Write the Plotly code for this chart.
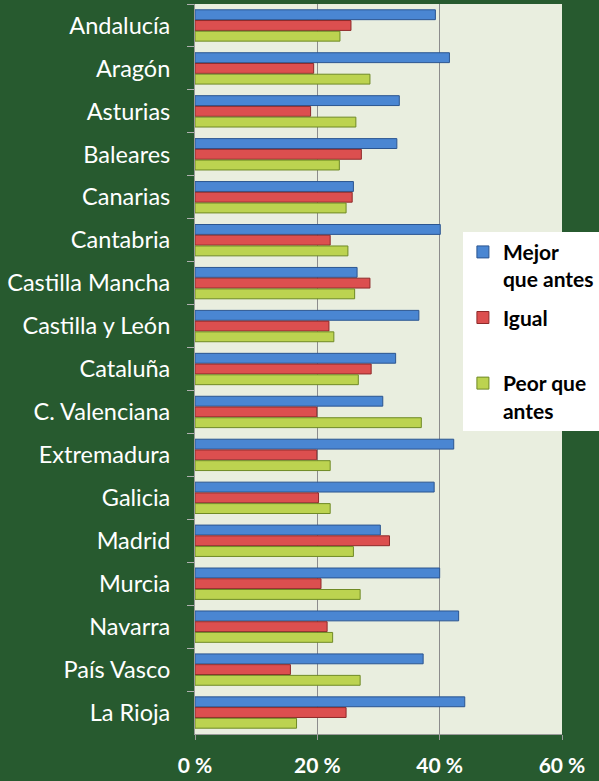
import plotly.graph_objects as go

regions = ["Andalucía", "Aragón", "Asturias", "Baleares", "Canarias", "Cantabria",
           "Castilla Mancha", "Castilla y León", "Cataluña", "C. Valenciana",
           "Extremadura", "Galicia", "Madrid", "Murcia", "Navarra", "País Vasco", "La Rioja"]

mejor = [39.3, 41.6, 33.4, 33.0, 25.9, 40.1, 26.5, 36.6, 32.8, 30.7,
         42.3, 39.1, 30.3, 40.0, 43.1, 37.3, 44.1]
igual = [25.5, 19.4, 18.9, 27.2, 25.7, 22.1, 28.6, 21.9, 28.8, 19.9,
         19.9, 20.2, 31.8, 20.6, 21.6, 15.6, 24.7]
peor = [23.7, 28.6, 26.3, 23.6, 24.7, 25.0, 26.1, 22.7, 26.7, 37.0,
        22.1, 22.1, 25.9, 27.0, 22.5, 27.0, 16.6]

x_ticks = [0, 20, 40, 60]
x_tick_labels = ["0 %", "20 %", "40 %", "60 %"]

series = [
    ("Mejor<br>que antes", mejor, "#4a86d2", "#2b5590"),
    ("Igual<br> ", igual, "#dc4f4f", "#8e2a2a"),
    ("Peor que<br>antes", peor, "#bcd350", "#6f8a25"),
]

fig = go.Figure()
for i, (name, vals, col, line) in enumerate(series):
    fig.add_trace(go.Bar(
        y=regions, x=vals, name=name, orientation="h", legendgroup=f"g{i}",
        marker=dict(color=col, line=dict(color=line, width=1)),
    ))

fig.update_layout(
    width=599, height=781,
    paper_bgcolor="#275a2f",
    plot_bgcolor="#e9eedf",
    margin=dict(l=195, r=37, t=4, b=47, autoexpand=False),
    barmode="group",
    bargap=0.25,
    bargroupgap=0.08,
    showlegend=True,
    legend=dict(
        x=0.73, y=0.688, xanchor="left", yanchor="top",
        bgcolor="white", borderwidth=0,
        font=dict(family="Lato", size=21, color="black", weight="bold"),
        valign="top", tracegroupgap=8, itemwidth=30,
    ),
    font=dict(family="Lato"),
)

fig.update_xaxes(
    range=[0, 60], tickvals=x_ticks, ticktext=x_tick_labels,
    showgrid=True, gridcolor="#8c8c8c", gridwidth=1,
    showline=True, linecolor="#9a9a9a", linewidth=1,
    ticks="outside", ticklen=5, tickcolor="#9a9a9a",
    tickfont=dict(family="Lato", size=21, color="white", weight="bold"),
    ticklabelstandoff=8, zeroline=False, fixedrange=True, automargin=False,
)
fig.update_yaxes(
    autorange="reversed", categoryorder="array", categoryarray=regions,
    showline=True, linecolor="#9a9a9a", linewidth=1,
    ticks="outside", ticklen=7, tickcolor="#b0b0b0", tickson="boundaries",
    tickfont=dict(family="Lato", size=23.5, color="white"),
    ticklabelstandoff=19, showgrid=False, automargin=False,
)

fig.write_html("out.html", config={"displayModeBar": False},
               post_script="document.body.style.margin='0';")
